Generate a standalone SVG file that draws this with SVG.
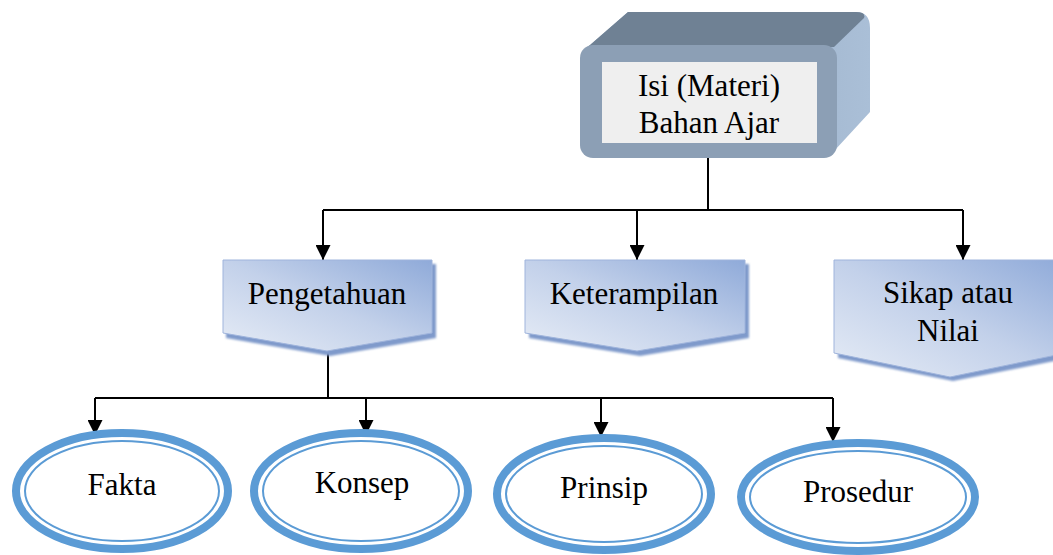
<svg xmlns="http://www.w3.org/2000/svg" width="1053" height="555" viewBox="0 0 1053 555">
<defs>
<linearGradient id="pg" x1="0" y1="1" x2="1" y2="0">
<stop offset="0" stop-color="#e6ecf6"/>
<stop offset="0.5" stop-color="#c3d1ea"/>
<stop offset="1" stop-color="#8faad9"/>
</linearGradient>
<linearGradient id="side" x1="0" y1="0" x2="1" y2="0">
<stop offset="0" stop-color="#8fa3bb"/>
<stop offset="1" stop-color="#aabfd7"/>
</linearGradient>
<marker id="arr" viewBox="0 0 10 10" refX="10" refY="5" markerWidth="15" markerHeight="15" markerUnits="userSpaceOnUse" orient="auto">
<path d="M0,0 L10,5 L0,10 Z" fill="#000"/>
</marker>
<filter id="blur" x="-10%" y="-10%" width="120%" height="130%"><feGaussianBlur stdDeviation="1.2"/></filter>
</defs>
<style>
text{font-family:'Liberation Serif','Times New Roman','DejaVu Serif',serif;font-size:31px;fill:#000;text-anchor:middle}
.ln{stroke:#000;stroke-width:2;fill:none}
.sh{fill:#7f9acb;filter:url(#blur)}
.pent{fill:url(#pg);stroke:#9fb4dc;stroke-width:1}
.eo{fill:#fff;stroke:#5b9bd5;stroke-width:8}
.ei{fill:none;stroke:#5b9bd5;stroke-width:2}
</style>
<rect width="1053" height="555" fill="#fff"/>

<g id="connectors">
<path class="ln" d="M708,158 V210"/>
<path class="ln" d="M323,210 H963"/>
<path class="ln" d="M323,210 V260" marker-end="url(#arr)"/>
<path class="ln" d="M637,210 V260" marker-end="url(#arr)"/>
<path class="ln" d="M963,210 V260" marker-end="url(#arr)"/>
<path class="ln" d="M328,352 V398"/>
<path class="ln" d="M95,398 H833"/>
<path class="ln" d="M95,398 V435" marker-end="url(#arr)"/>
<path class="ln" d="M366,398 V435" marker-end="url(#arr)"/>
<path class="ln" d="M601,398 V437" marker-end="url(#arr)"/>
<path class="ln" d="M833,398 V442" marker-end="url(#arr)"/>
</g>

<g id="node-isi">
<path d="M582,52 L628,12 L856,12 Q870,12 870,28 L870,112 L835,150 L835,52 Z" fill="url(#side)"/>
<path d="M582,52 L628,12 L856,12 Q866,12 864,18 L834,47 Z" fill="#6f8194"/>
<rect x="580" y="45" width="257" height="113" rx="13" fill="#8c9fb5"/>
<rect x="602" y="62" width="215" height="81" fill="#efefef"/>
<text x="709" y="96">Isi (Materi)</text>
<text x="709" y="133">Bahan Ajar</text>
</g>

<g id="node-pengetahuan">
<path class="sh" d="M226,264 L436,264 L436,338 L330,356 L226,338 Z"/>
<path class="pent" d="M223,260 L432,260 L432,333 L327,351 L223,333 Z"/>
<text x="327" y="304">Pengetahuan</text>
</g>

<g id="node-keterampilan">
<path class="sh" d="M529,264 L749,264 L749,338 L640,356 L529,338 Z"/>
<path class="pent" d="M525,260 L745,260 L745,333 L637,351 L525,333 Z"/>
<text x="634" y="304">Keterampilan</text>
</g>

<g id="node-sikap">
<path class="sh" d="M838,264 L1070,264 L1070,358 L953,381 L838,358 Z"/>
<path class="pent" d="M834,260 L1066,260 L1066,353 L950,377 L834,353 Z"/>
<text x="948" y="303">Sikap atau</text>
<text x="948" y="341">Nilai</text>
</g>

<g id="node-fakta">
<ellipse class="eo" cx="122" cy="491" rx="106" ry="58"/>
<ellipse class="ei" cx="122" cy="491" rx="97" ry="50"/>
<text x="122" y="495">Fakta</text>
</g>

<g id="node-konsep">
<ellipse class="eo" cx="361" cy="491" rx="107" ry="58"/>
<ellipse class="ei" cx="361" cy="491" rx="98" ry="50"/>
<text x="362" y="493">Konsep</text>
</g>

<g id="node-prinsip">
<ellipse class="eo" cx="604" cy="494" rx="107" ry="56"/>
<ellipse class="ei" cx="604" cy="494" rx="98" ry="48"/>
<text x="604" y="498">Prinsip</text>
</g>

<g id="node-prosedur">
<ellipse class="eo" cx="858" cy="497" rx="117" ry="54"/>
<ellipse class="ei" cx="858" cy="497" rx="108" ry="46"/>
<text x="858" y="502">Prosedur</text>
</g>
</svg>
